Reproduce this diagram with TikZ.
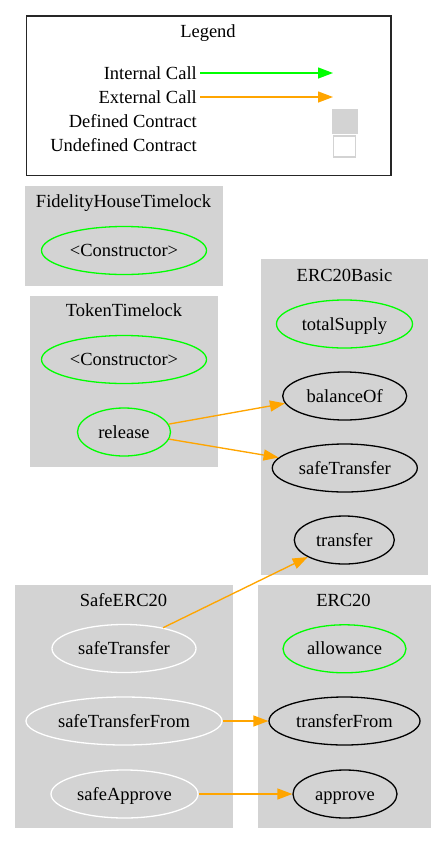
\documentclass[tikz,border=0pt]{standalone}
\usepackage{fontspec}
\setmainfont{Liberation Serif}
\usetikzlibrary{arrows.meta,shapes.geometric}
\definecolor{clgray}{HTML}{D3D3D3}
\definecolor{cgreen}{HTML}{00FF00}
\definecolor{corange}{HTML}{FFA500}
\tikzset{
  lbl/.style={inner sep=0pt,text height=12pt,text depth=0pt,font=\fontsize{18.5}{22}\selectfont},
  fn/.style={lbl,ellipse,draw,line width=1.3pt,minimum height=48pt},
  greenfn/.style={fn,draw=cgreen},
  blackfn/.style={fn,draw=black},
  whitefn/.style={fn,draw=white},
  cluster/.style={fill=clgray},
  callarrow/.style={line width=1.35pt,-{Triangle[length=15pt,width=11pt]}},
  extcall/.style={callarrow,draw=corange},
  intcall/.style={callarrow,draw=cgreen},
}
\begin{document}
\begin{tikzpicture}[x=1pt,y=-1pt]
\useasboundingbox[fill=white] (0,0) rectangle (446,844);
% Legend
\draw[line width=1.2pt,black!85] (26.5,16) rectangle (391,175.5);
\node[lbl] (legendtitle) at (208,31.5) {Legend};
\node[lbl,anchor=east] (lint) at (197,73.3) {Internal Call};
\node[lbl,anchor=east] (lext) at (197,97.3) {External Call};
\node[lbl,anchor=east] (ldef) at (197,121.2) {Defined Contract};
\node[lbl,anchor=east] (lundef) at (197,145.7) {Undefined Contract};
\coordinate (lintA) at (200,73);
\coordinate (lintB) at (333,73);
\coordinate (lextA) at (200,97);
\coordinate (lextB) at (333,97);
\draw[intcall] (lintA) -- (lintB);
\draw[extcall] (lextA) -- (lextB);
\node[fill=clgray,draw=clgray,line width=1pt,minimum width=25pt,minimum height=24pt,inner sep=0pt] (ldefbox) at (344.7,121.2) {};
\node[fill=white,draw=clgray,line width=1.3pt,minimum width=21.5pt,minimum height=21pt,inner sep=0pt] (lundefbox) at (344.5,146.5) {};
% Clusters
\fill[cluster] (25,186) rectangle (223,285.7);
\fill[cluster] (30,295.7) rectangle (217.7,466.7);
\fill[cluster] (261,259.3) rectangle (428,575);
\fill[cluster] (15,585) rectangle (233,828);
\fill[cluster] (258,585) rectangle (431,828);
\node[lbl] (tFid) at (123.5,201.7) {FidelityHouseTimelock};
\node[lbl] (tTok) at (124,310.7) {TokenTimelock};
\node[lbl] (tBasic) at (344.5,275) {ERC20Basic};
\node[lbl] (tSafe) at (123.5,600.7) {SafeERC20};
\node[lbl] (tErc) at (343.5,600.7) {ERC20};
% Functions
\node[greenfn,minimum width=165pt] (fidCtor) at (124,250.5) {<Constructor>};
\node[greenfn,minimum width=165pt] (tokCtor) at (124,359.5) {<Constructor>};
\node[greenfn,minimum width=93pt] (release) at (124,432) {release};
\node[greenfn,minimum width=136pt] (totalSupply) at (344.5,324) {totalSupply};
\node[blackfn,minimum width=124pt] (balanceOf) at (344.7,396) {balanceOf};
\node[blackfn,minimum width=145pt] (bSafeTransfer) at (344.8,468) {safeTransfer};
\node[blackfn,minimum width=100pt] (transfer) at (344.3,540) {transfer};
\node[whitefn,minimum width=144pt] (sSafeTransfer) at (124,648.5) {safeTransfer};
\node[whitefn,minimum width=196pt] (safeTransferFrom) at (124,721) {safeTransferFrom};
\node[whitefn,minimum width=147pt] (safeApprove) at (124.5,794) {safeApprove};
\node[greenfn,minimum width=123pt] (allowance) at (344.5,648.8) {allowance};
\node[blackfn,minimum width=151pt] (transferFrom) at (344.5,721) {transferFrom};
\node[blackfn,minimum width=104pt] (approve) at (345,794) {approve};
% Calls
\draw[extcall] (release.10) -- (balanceOf.187);
\draw[extcall] (release.-9) -- (bSafeTransfer.171);
\draw[extcall] (sSafeTransfer.28) -- (transfer.205);
\draw[extcall] (safeTransferFrom) -- (transferFrom);
\draw[extcall] (safeApprove) -- (approve);
\end{tikzpicture}
\end{document}
